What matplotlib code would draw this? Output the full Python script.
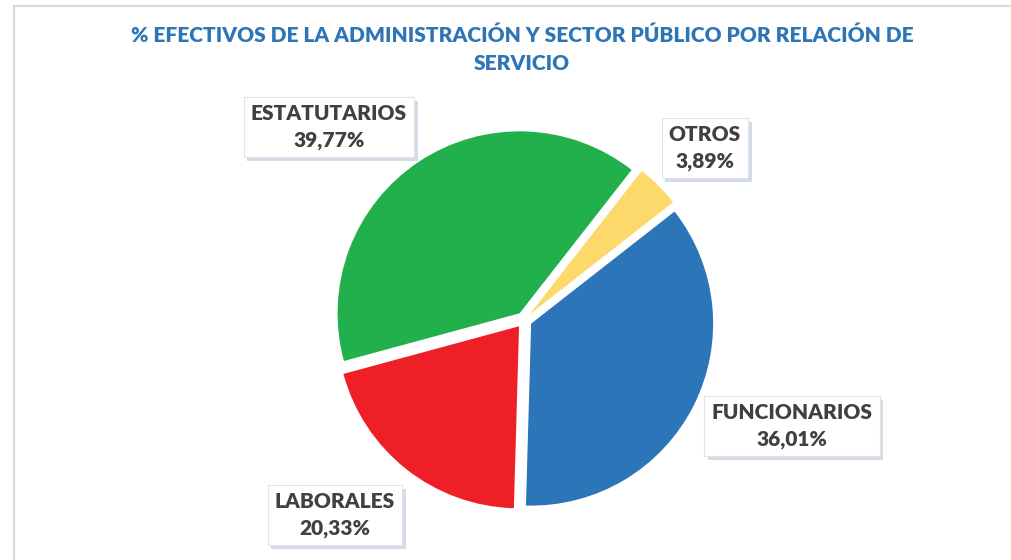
import matplotlib
matplotlib.use("Agg")
import matplotlib.pyplot as plt
import matplotlib.patheffects as pe
from matplotlib.lines import Line2D

# datos
categorias = ["FUNCIONARIOS", "LABORALES", "ESTATUTARIOS", "OTROS"]
valores = [36.01, 20.33, 39.77, 3.89]
colores = ["#2B75B8", "#EE1F26", "#22B04C", "#FDD96B"]
etiquetas = ["36,01%", "20,33%", "39,77%", "3,89%"]
# centro de cada etiqueta (px)
pos_etiquetas = [(792, 426), (335, 515), (329, 127), (705, 148)]

W, H = 1012, 560
fig = plt.figure(figsize=(W / 100, H / 100), dpi=100)
ax = fig.add_axes([0, 0, 1, 1])

fuente = ["Lato", "DejaVu Sans"]

# marco del gráfico
ax.add_line(Line2D([14.5, 14.5], [0, H - 5.5], color="#DADADA", lw=1.5))
ax.add_line(Line2D([14.5, W], [H - 5.5, H - 5.5], color="#DADADA", lw=1.5))

ax.pie(valores, colors=colores, startangle=38, counterclock=False,
       explode=[8] * 4, radius=182, center=(524, H - 320),
       wedgeprops=dict(linewidth=0), frame=True)
ax.set_xlim(0, W)
ax.set_ylim(0, H)
ax.axis("off")

fig.text(0.516, 1 - 35 / H, "% EFECTIVOS DE LA ADMINISTRACIÓN Y SECTOR PÚBLICO POR RELACIÓN DE",
         ha="center", va="center", color="#2E75B6", fontsize=15, fontweight="heavy", family=fuente)
fig.text(0.516, 1 - 63 / H, "SERVICIO",
         ha="center", va="center", color="#2E75B6", fontsize=15, fontweight="heavy", family=fuente)

for cat, et, (px, py) in zip(categorias, etiquetas, pos_etiquetas):
    t = ax.text(px, H - py, cat + "\n" + et, ha="center", va="center",
                color="#404040", fontsize=15, fontweight="heavy", family=fuente,
                linespacing=1.45, zorder=5,
                bbox=dict(boxstyle="square,pad=0.35", fc="white", ec="#E3E3E3", lw=0.8))
    # sombra de la caja
    t.get_bbox_patch().set_path_effects([
        pe.SimplePatchShadow(offset=(2.5, -2.5), shadow_rgbFace="#D3DDEA", alpha=1),
        pe.Normal()])

fig.savefig("out.png", dpi=100, facecolor="white")
